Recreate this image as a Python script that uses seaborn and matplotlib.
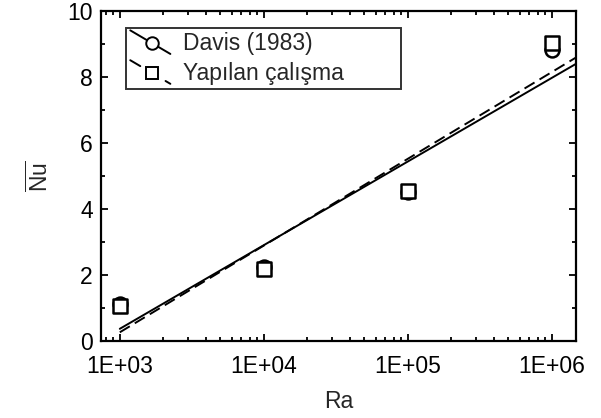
import numpy as np
import pandas as pd
import matplotlib
matplotlib.use("Agg")
import matplotlib.pyplot as plt
import seaborn as sns
from matplotlib.lines import Line2D
from matplotlib.legend_handler import HandlerBase
from matplotlib.ticker import LogLocator, FixedLocator, MultipleLocator, NullFormatter

ra = [1e3, 1e4, 1e5, 1e6]
davis = [1.118, 2.243, 4.519, 8.800]
calisma = [1.07, 2.17, 4.55, 9.03]
xticks = [1e3, 1e4, 1e5, 1e6]
xticklabels = ["1E+03", "1E+04", "1E+05", "1E+06"]
yticks = [0, 2, 4, 6, 8, 10]

sns.set_theme(style="ticks")
plt.rcParams["font.family"] = ["Liberation Sans", "DejaVu Sans"]
plt.rcParams["mathtext.fontset"] = "custom"
plt.rcParams["mathtext.rm"] = "Liberation Sans"

FS = 16.5

fig = plt.figure(figsize=(6.01, 4.18), dpi=100)
ax = fig.add_axes([0.168, 0.184, 0.790, 0.790])

xlo, xhi = 740, 1.47e6
xs = np.array([1e3, xhi])

# log trendlines computed from the data
for vals, ls in [(davis, "-"), (calisma, (0, (6, 3)))]:
    b, a = np.polyfit(np.log10(ra), vals, 1)
    df = pd.DataFrame({"x": xs, "y": a + b * np.log10(xs)})
    sns.lineplot(data=df, x="x", y="y", ax=ax, color="black", lw=1.4,
                 linestyle=ls, legend=False)

sns.scatterplot(x=ra, y=davis, ax=ax, marker="o", s=100, facecolor="white",
                edgecolor="black", linewidth=1.8, zorder=3)
sns.scatterplot(x=ra, y=calisma, ax=ax, marker="s", s=100, facecolor="white",
                edgecolor="black", linewidth=1.8, zorder=4)

ax.set_xscale("log")
ax.set_xlim(xlo, xhi)
ax.set_ylim(0, 10)
ax.xaxis.set_major_locator(FixedLocator(xticks))
ax.set_xticklabels(xticklabels)
ax.xaxis.set_minor_locator(LogLocator(base=10, subs=np.arange(2, 10)))
ax.xaxis.set_minor_formatter(NullFormatter())
ax.set_yticks(yticks)
ax.yaxis.set_minor_locator(MultipleLocator(1))

ax.tick_params(which="both", direction="in", top=True, right=True,
               labelsize=FS, colors="black", width=1.3)
ax.tick_params(which="major", length=5)
ax.tick_params(which="minor", length=3)
ax.tick_params(axis="x", which="major", pad=10)
ax.tick_params(axis="y", which="major", pad=6)
for s in ax.spines.values():
    s.set_linewidth(1.6)
    s.set_color("black")

ax.set_xlabel("Ra", fontsize=FS, labelpad=9)
ax.set_ylabel(r"$\overline{\mathrm{Nu}}$", fontsize=FS, labelpad=10)


class DiagHandler(HandlerBase):
    def __init__(self, marker, solid):
        super().__init__()
        self.marker = marker
        self.solid = solid

    def create_artists(self, legend, orig_handle, xdescent, ydescent, width,
                       height, fontsize, trans):
        x0, x1 = -xdescent, -xdescent + width
        yc = -ydescent + height / 2
        dy = 8.5
        ya, yb = yc + dy, yc - dy

        def pt(f):
            return x0 + f * (x1 - x0), ya + f * (yb - ya)

        arts = []
        if self.solid:
            segs = [(0, 1)]
        else:
            segs = [(0, 0.25), (0.88, 1.0)]
        for f0, f1 in segs:
            p0, p1 = pt(f0), pt(f1)
            arts.append(Line2D([p0[0], p1[0]], [p0[1], p1[1]], color="black",
                               lw=1.4, transform=trans))
        mx, my = pt(0.55)
        arts.append(Line2D([mx], [my], marker=self.marker, markersize=9,
                           markerfacecolor="white", markeredgecolor="black",
                           markeredgewidth=1.4, linestyle="none",
                           transform=trans))
        return arts


h1 = Line2D([], [], color="black")
h2 = Line2D([], [], color="black")
leg_w = 0.579
leg_h = 0.19
leg = ax.legend([h1, h2], ["Davis (1983)", "Yapılan çalışma"],
                handler_map={h1: DiagHandler("o", True),
                             h2: DiagHandler("s", False)},
                loc="upper left", bbox_to_anchor=(0.053, 0.948 - leg_h, leg_w, leg_h),
                mode="expand",
                borderaxespad=0, fontsize=FS, frameon=True, fancybox=False,
                handlelength=1.75, handletextpad=0.55, labelspacing=0.3,
                borderpad=0.18)
leg.get_frame().set_edgecolor("black")
leg.get_frame().set_linewidth(1.4)

fig.savefig("out.png", dpi=100)
